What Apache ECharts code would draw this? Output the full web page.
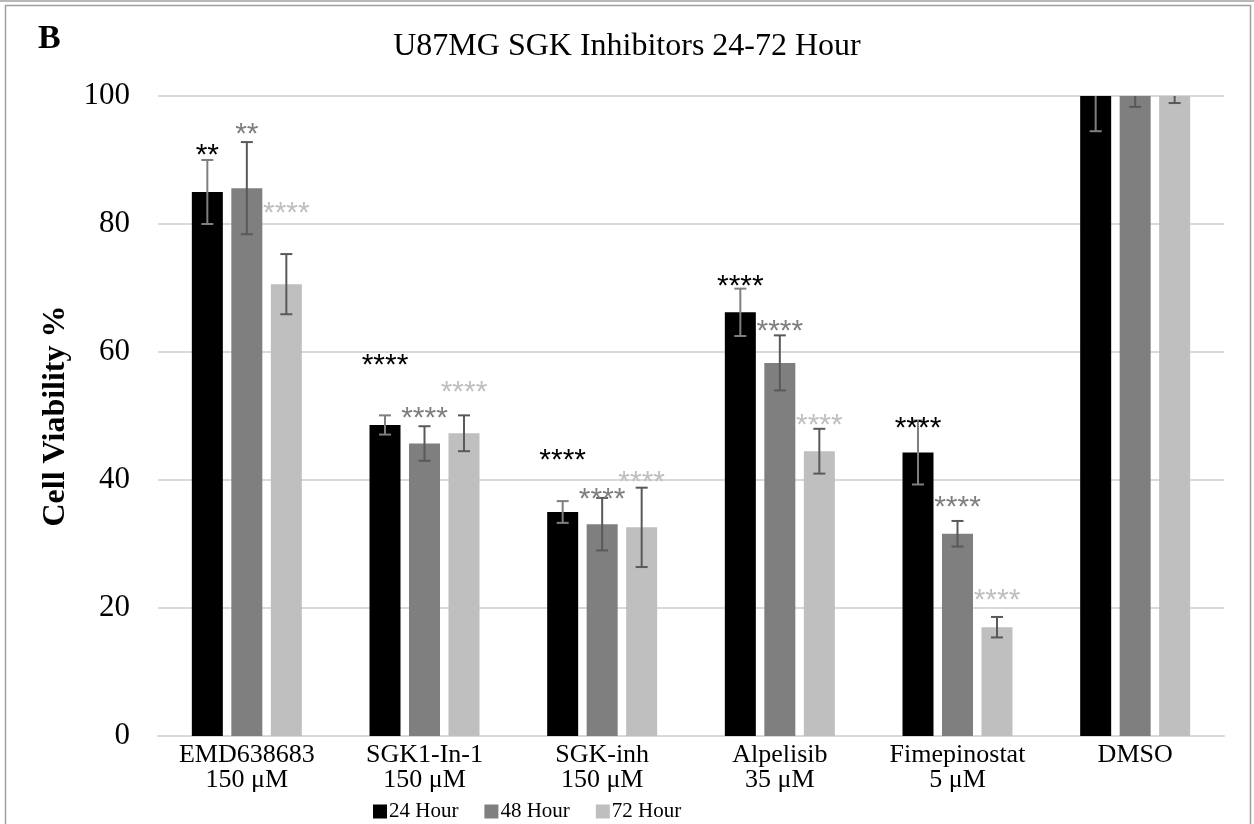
<!DOCTYPE html>
<html>
<head>
<meta charset="utf-8">
<script src="https://cdn.jsdelivr.net/npm/echarts@6/dist/echarts.min.js"></script>
<style>
html,body{margin:0;padding:0;background:#fff;}
#chart{width:1254px;height:824px;}
</style>
</head>
<body>
<div id="chart"></div>
<script>
// ---- data ----
const categories = ['EMD638683\n150 \u03bcM', 'SGK1-In-1\n150 \u03bcM', 'SGK-inh\n150 \u03bcM', 'Alpelisib\n35 \u03bcM', 'Fimepinostat\n5 \u03bcM', 'DMSO'];
const seriesNames = ['24 Hour', '48 Hour', '72 Hour'];
const h24 = [85.0, 48.6, 35.0, 66.2, 44.3, 100];
const h48 = [85.6, 45.7, 33.1, 58.3, 31.6, 100];
const h72 = [70.6, 47.3, 32.6, 44.5, 17.0, 100];
const err24 = [5.0, 1.5, 1.7, 3.7, 5.0, 5.5];
const err48 = [7.2, 2.7, 4.1, 4.3, 2.0, 1.7];
const err72 = [4.7, 2.8, 6.2, 3.5, 1.6, 1.1];
const stars24 = ['**', '****', '****', '****', '****', ''];
const stars48 = ['**', '****', '****', '****', '****', ''];
const stars72 = ['****', '****', '****', '****', '****', ''];
const starPos24 = [91.7, 58.9, 44.1, 71.3, 49.1, null];
const starPos48 = [95.0, 50.7, 38.0, 64.2, 36.8, null];
const starPos72 = [82.7, 54.7, 40.7, 49.5, 22.2, null];
const yTicks = [0, 20, 40, 60, 80, 100];

// ---- styles ----
const colors = ['#000000', '#7f7f7f', '#bfbfbf'];
const errColors = ['#7f7f7f', '#595959', '#595959'];
const FONT = '"Liberation Serif", "Times New Roman", serif';
const STAR_FONT = '"Liberation Sans", Arial, sans-serif';
const BAR_W = 31;
const GAP_PX = 8.5;
const offsets = [-(BAR_W + GAP_PX), 0, BAR_W + GAP_PX];

const values = [h24, h48, h72];
const errs = [err24, err48, err72];
const stars = [stars24, stars48, stars72];
const starPos = [starPos24, starPos48, starPos72];

const chart = echarts.init(document.getElementById('chart'), null, {renderer: 'canvas'});

const series = [];
values.forEach((vals, s) => {
  series.push({
    name: seriesNames[s],
    type: 'bar',
    data: vals,
    barWidth: BAR_W,
    barGap: (GAP_PX / BAR_W * 100).toFixed(1) + '%',
    itemStyle: {color: colors[s]},
    emphasis: {disabled: true},
    z: 2
  });
});
values.forEach((vals, s) => {
  series.push({
    type: 'custom',
    name: 'err' + s,
    clip: true,
    z: 5,
    silent: true,
    data: vals.map((v, i) => [i, v - errs[s][i], v + errs[s][i]]),
    renderItem: function (params, api) {
      const lo = api.coord([api.value(0), api.value(1)]);
      const hi = api.coord([api.value(0), api.value(2)]);
      const x = lo[0] + offsets[s];
      const cap = 6;
      const st = {stroke: errColors[s], lineWidth: 2};
      return {
        type: 'group',
        children: [
          {type: 'line', shape: {x1: x, y1: lo[1], x2: x, y2: hi[1]}, style: st},
          {type: 'line', shape: {x1: x - cap, y1: lo[1], x2: x + cap, y2: lo[1]}, style: st},
          {type: 'line', shape: {x1: x - cap, y1: hi[1], x2: x + cap, y2: hi[1]}, style: st}
        ]
      };
    }
  });
});
stars.forEach((arr, s) => {
  series.push({
    type: 'custom',
    name: 'stars' + s,
    z: 6,
    silent: true,
    clip: false,
    data: arr.map((t, i) => [i, starPos[s][i] == null ? 0 : starPos[s][i], t]),
    renderItem: function (params, api) {
      const txt = arr[params.dataIndex];
      if (!txt) return null;
      const p = api.coord([api.value(0), api.value(1)]);
      return {
        type: 'text',
        x: p[0] + offsets[s],
        y: p[1] + 7,
        style: {
          text: txt,
          fill: colors[s],
          font: '30px ' + STAR_FONT,
          align: 'center',
          verticalAlign: 'middle'
        }
      };
    }
  });
});

const option = {
  backgroundColor: '#ffffff',
  animation: false,
  title: {
    text: 'U87MG SGK Inhibitors 24-72 Hour',
    left: 'center',
    top: 26,
    textStyle: {fontFamily: FONT, fontSize: 32, fontWeight: 'normal', color: '#000'}
  },
  legend: {
    data: seriesNames,
    left: 368,
    top: 796,
    itemWidth: 14,
    itemHeight: 14,
    itemGap: 26,
    icon: 'rect',
    textStyle: {fontFamily: FONT, fontSize: 21, color: '#000', padding: [0, 0, 0, -3]}
  },
  grid: {left: 158, right: 30, top: 96, bottom: 88, containLabel: false},
  xAxis: {
    type: 'category',
    data: categories,
    axisLine: {lineStyle: {color: '#d9d9d9', width: 2}},
    axisTick: {show: false},
    axisLabel: {fontFamily: FONT, fontSize: 26, color: '#000', lineHeight: 25, margin: 7, interval: 0}
  },
  yAxis: {
    type: 'value',
    min: yTicks[0],
    max: yTicks[yTicks.length - 1],
    interval: 20,
    name: 'Cell Viability %',
    nameLocation: 'middle',
    nameGap: 86,
    nameTextStyle: {fontFamily: FONT, fontSize: 32, fontWeight: 'bold', color: '#000'},
    axisLine: {show: false},
    axisTick: {show: false},
    axisLabel: {fontFamily: FONT, fontSize: 31, color: '#000', margin: 28},
    splitLine: {lineStyle: {color: '#d9d9d9', width: 2}}
  },
  graphic: [
    {type: 'rect', shape: {x: 5.5, y: 5.5, width: 1245, height: 830}, style: {fill: 'none', stroke: '#a0a0a0', lineWidth: 1.5}, silent: true},
    {type: 'line', shape: {x1: 0, y1: 1, x2: 1254, y2: 1}, style: {stroke: '#a0a0a0', lineWidth: 1.5}, silent: true},
    {type: 'text', left: 38, top: 22, style: {text: 'B', font: 'bold 34px ' + FONT, fill: '#000'}, silent: true}
  ],
  series: series
};
chart.setOption(option);
</script>
</body>
</html>
